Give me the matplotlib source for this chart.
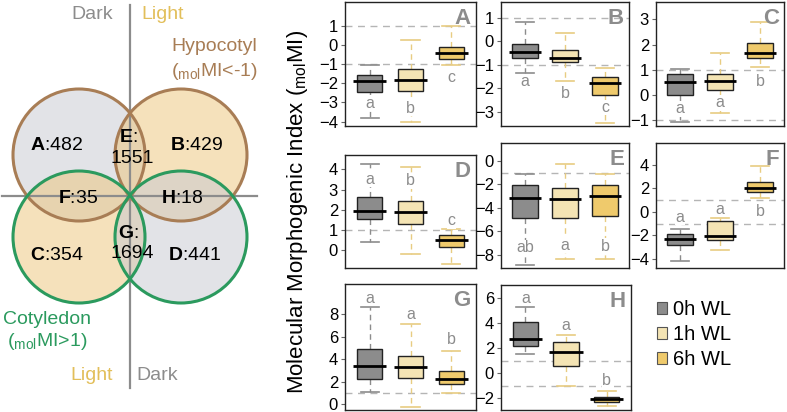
import matplotlib.pyplot as plt
from matplotlib.patches import Circle, Patch

plt.rcParams['font.family'] = 'Liberation Sans'
plt.rcParams['mathtext.fontset'] = 'custom'
plt.rcParams['mathtext.rm'] = 'Liberation Sans'
plt.rcParams['mathtext.bf'] = 'Liberation Sans:bold'
plt.rcParams['mathtext.it'] = 'Liberation Sans:italic'

# Venn diagram counts
venn_regions = ['A', 'B', 'C', 'D', 'E', 'F', 'G', 'H']
venn_counts = [482, 429, 354, 441, 1551, 35, 1694, 18]

# box plot data, one row per panel, one value per time point
groups = ['0h WL', '1h WL', '6h WL']
panels = ['A', 'B', 'C', 'D', 'E', 'F', 'G', 'H']
whis_hi = [[-1.05, 0.29, 1.0], [0.83, 0.36, -1.13], [1.03, 1.68, 2.9], [4.26, 4.13, 1.03],
           [-1.08, -0.23, -1.08], [-1.48, -0.48, 3.9], [8.62, 7.11, 4.74], [5.29, 3.03, -1.37]]
q3 = [[-1.57, -1.27, -0.09], [-0.1, -0.35, -1.51], [0.83, 0.83, 2.07], [2.64, 2.43, 0.75],
      [-2.08, -2.31, -2.02], [-1.85, -0.77, 2.57], [4.92, 4.33, 2.99], [4.07, 2.53, -1.85]]
med = [[-1.87, -1.83, -0.44], [-0.45, -0.69, -1.77], [0.53, 0.57, 1.68], [1.95, 1.87, 0.5],
       [-3.13, -3.28, -3.02], [-2.28, -2.08, 2.06], [3.44, 3.35, 2.25], [2.75, 1.72, -2.04]]
q1 = [[-2.47, -2.38, -0.75], [-0.73, -0.9, -2.29], [0.0, 0.2, 1.45], [1.52, 1.32, 0.17],
      [-4.84, -4.84, -4.7], [-2.85, -2.42, 1.66], [2.25, 2.37, 1.8], [2.17, 0.6, -2.3]]
whis_lo = [[-3.83, -4.03, -1.05], [-1.35, -1.69, -3.47], [-1.08, -0.72, 1.12], [0.41, -0.2, -0.7],
           [-8.86, -8.4, -8.4], [-4.2, -3.28, 1.2], [1.13, -0.2, 1.04], [1.59, -0.98, -2.57]]
sig_letters = [['a', 'b', 'c'], ['a', 'b', 'c'], ['a', 'a', 'b'], ['a', 'b', 'c'],
               ['ab', 'a', 'b'], ['a', 'a', 'b'], ['a', 'a', 'b'], ['a', 'a', 'b']]
letter_y = [[-3.05, -3.3, -1.7], [-1.73, -2.22, -2.82], [-0.53, -0.3, 0.55], [3.5, 3.43, 1.45],
            [-7.4, -7.2, -7.3], [-0.48, 0.2, 0.06], [9.42, 7.94, 5.72], [6.0, 3.8, -0.53]]
y_limits = [(-4.23, 2.25), (-3.61, 1.68), (-1.22, 3.68), (-0.88, 4.71),
            (-9.14, 1.54), (-4.77, 5.85), (-0.5, 10.67), (-2.92, 7.06)]
y_ticks = [[-4, -3, -2, -1, 0, 1], [-3, -2, -1, 0, 1], [-1, 0, 1, 2, 3], [0, 1, 2, 3, 4],
           [-8, -6, -4, -2, 0], [-4, -2, 0, 2, 4], [0, 2, 4, 6, 8], [-2, 0, 2, 4, 6]]
ref_lines = [[-1, 1], [-1, 1], [-1, 1], [1], [-1], [-1, 1], [1], [-1, 1]]

W, H = 787, 412
fig = plt.figure(figsize=(W / 100, H / 100), dpi=100)


def rect(l, t, r, b):
    return [l / W, 1 - b / H, (r - l) / W, (b - t) / H]


grey_txt = '#8c8c8c'
light_txt = '#e2bf5a'
brown = '#a87d55'
green = '#2b9a5e'

# ---- Venn diagram ----
vax = fig.add_axes(rect(0, 0, 270, 412))
vax.set_xlim(0, 270)
vax.set_ylim(412, 0)
vax.axis('off')

circles = [((79, 155), '#c7c9d1', brown), ((181, 155), '#edc578', brown),
           ((79, 237), '#edc578', green), ((181, 237), '#c7c9d1', green)]
for c, fc, ec in circles:
    vax.add_patch(Circle(c, 66, facecolor=fc, alpha=0.5, edgecolor='none', zorder=1))
vax.plot([130, 130], [5, 388], color='#8c8c8c', lw=1.6, zorder=2)
vax.plot([2, 257], [196, 196], color='#8c8c8c', lw=1.6, zorder=2)
for c, fc, ec in circles:
    vax.add_patch(Circle(c, 66, facecolor='none', edgecolor=ec, lw=2.2, zorder=3))

vfs = 14
label_pos = {'A': (57, 146), 'B': (197, 146), 'C': (57, 255), 'D': (195, 255),
             'F': (78, 198), 'H': (182, 198)}
for reg, n in zip(venn_regions, venn_counts):
    if reg in label_pos:
        x, y = label_pos[reg]
        vax.text(x, y, r'$\mathbf{%s}$:%d' % (reg, n), fontsize=vfs, ha='center', va='center', zorder=4)
    else:
        y0 = 137 if reg == 'E' else 233
        vax.text(128, y0, r'$\mathbf{%s}$:' % reg, fontsize=vfs, ha='center', va='center', zorder=4)
        vax.text(132, y0 + 21, str(n), fontsize=vfs, ha='center', va='center', zorder=4)

vax.text(92, 14, 'Dark', color=grey_txt, fontsize=vfs, ha='center', va='center')
vax.text(163, 14, 'Light', color=light_txt, fontsize=vfs, ha='center', va='center')
vax.text(214, 46, 'Hypocotyl', color=brown, fontsize=vfs, ha='center', va='center')
vax.text(214, 71, r'($_{\mathrm{mol}}$MI<-1)', color=brown, fontsize=vfs, ha='center', va='center')
vax.text(47, 320, 'Cotyledon', color=green, fontsize=vfs, ha='center', va='center')
vax.text(47, 342, r'($_{\mathrm{mol}}$MI>1)', color=green, fontsize=vfs, ha='center', va='center')
vax.text(92, 376, 'Light', color=light_txt, fontsize=vfs, ha='center', va='center')
vax.text(157, 376, 'Dark', color=grey_txt, fontsize=vfs, ha='center', va='center')

# ---- box plot panels ----
panel_rects = [(345, 2, 476, 126), (501, 2, 629, 126), (656, 2, 784, 126),
               (345, 155, 476, 268), (501, 143, 629, 268), (656, 143, 784, 268),
               (345, 284, 476, 410), (501, 285, 631, 410)]
box_fill = ['#8c8c8c', '#f4e4b4', '#efca6c']
whisk_col = ['#8c8c8c', '#e8cc82', '#e8cc82']
pos = [1, 2, 3]

for i, name in enumerate(panels):
    ax = fig.add_axes(rect(*panel_rects[i]))
    stats = []
    for j in range(3):
        stats.append(dict(whislo=whis_lo[i][j], q1=q1[i][j], med=med[i][j],
                          q3=q3[i][j], whishi=whis_hi[i][j], fliers=[]))
    bp = ax.bxp(stats, positions=pos, widths=0.63, capwidths=0.44, patch_artist=True,
                showfliers=False,
                boxprops=dict(edgecolor='#222222', linewidth=1.0),
                medianprops=dict(linestyle='none'),
                whiskerprops=dict(linestyle=(0, (4, 3)), linewidth=1.0),
                capprops=dict(linewidth=1.2))
    for j in range(3):
        bp['boxes'][j].set_facecolor(box_fill[j])
        bp['boxes'][j].set_zorder(3)
        for k in (2 * j, 2 * j + 1):
            bp['whiskers'][k].set_color(whisk_col[j])
            bp['caps'][k].set_color(whisk_col[j])
    ax.hlines(med[i], [p - 0.41 for p in pos], [p + 0.41 for p in pos],
              color='black', lw=2.0, zorder=4)
    for yl in ref_lines[i]:
        ax.axhline(yl, color='#b5b5b5', lw=1.0, linestyle=(0, (5, 4)), zorder=0.5)
    for j in range(3):
        ax.text(pos[j], letter_y[i][j], sig_letters[i][j], color=grey_txt, fontsize=11.5,
                ha='center', va='center', zorder=5,
                bbox=dict(facecolor='white', edgecolor='none', pad=0.3))
    ax.text(0.96, 0.95, name, transform=ax.transAxes, ha='right', va='top',
            fontsize=16, fontweight='bold', color=grey_txt)
    ax.set_xlim(0.4, 3.6)
    ax.set_ylim(*y_limits[i])
    ax.set_yticks(y_ticks[i])
    ax.set_xticks([])
    ax.tick_params(axis='y', labelsize=12, length=3, width=0.8, color='#666666', pad=2)
    for s in ax.spines.values():
        s.set_color('#222222')
        s.set_linewidth(1.0)

fig.text(297 / W, 1 - 212 / H, r'Molecular Morphogenic Index ($_{\mathrm{mol}}$MI)',
         rotation=90, ha='center', va='center', fontsize=16)

handles = [Patch(facecolor=box_fill[j], edgecolor='#555555', lw=0.8) for j in range(3)]
fig.legend(handles, groups, loc='upper left', bbox_to_anchor=(657 / W, 1 - 300 / H),
           frameon=False, fontsize=14.5, handlelength=0.5, handleheight=0.5,
           handletextpad=0.3, labelspacing=0.3, borderaxespad=0, borderpad=0)

fig.savefig('out.png', dpi=100)
